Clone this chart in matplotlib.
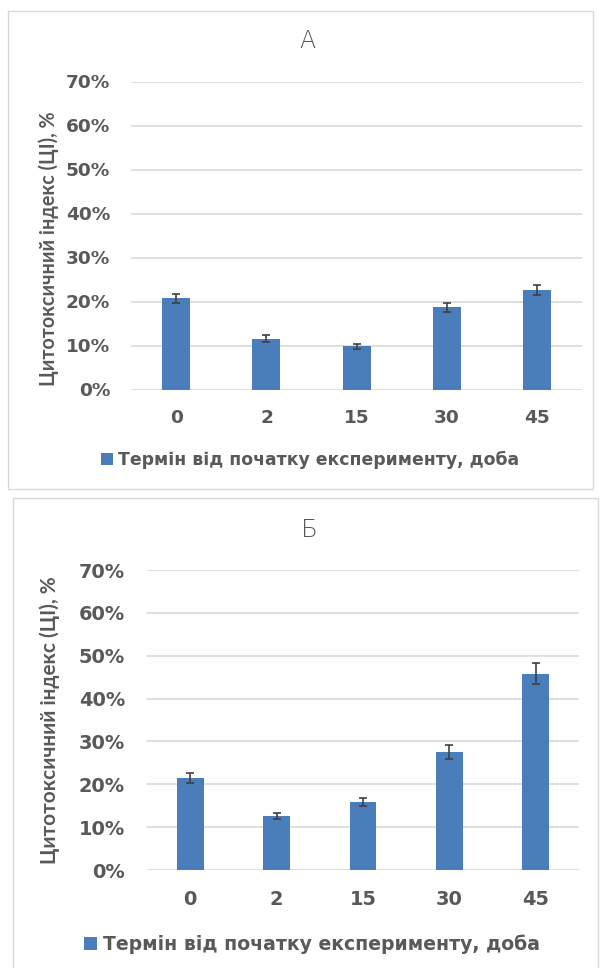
import matplotlib
matplotlib.use("Agg")
import matplotlib.pyplot as plt
from matplotlib.patches import Rectangle

# Data: cytotoxic index (%) by day from the start of the experiment
days = ["0", "2", "15", "30", "45"]
ci_a = [20.7, 11.5, 9.8, 18.7, 22.6]
err_a = [1.1, 0.8, 0.6, 1.0, 1.2]
ci_b = [21.5, 12.7, 15.9, 27.5, 45.8]
err_b = [1.2, 0.7, 0.9, 1.6, 2.4]
y_ticks = [0, 10, 20, 30, 40, 50, 60, 70]
y_tick_labels = [f"{t}%" for t in y_ticks]
panel_titles = ["А", "Б"]
series_name = "Термін від початку експерименту, доба"
y_label = "Цитотоксичний індекс (ЦІ), %"

W, H = 600, 968
BAR = "#4A7EBB"
GRID = "#D9D9D9"
TXT = "#595959"

fig = plt.figure(figsize=(W / 100, H / 100), dpi=100)


def fx(x):
    return x / W


def fy(y):
    return 1 - y / H


def panel(frame, box, values, errors, title, title_xy, ylab_xy, leg_xy, s,
          leg_size):
    # outer frame of the panel
    fl, ft, fr, fb = frame
    fig.patches.append(Rectangle((fx(fl), fy(fb)), fx(fr - fl), (fb - ft) / H,
                                 transform=fig.transFigure, fill=False,
                                 edgecolor=GRID, linewidth=1.0))
    l, t, r, b = box
    ax = fig.add_axes([fx(l), fy(b), fx(r - l), (b - t) / H])
    x = list(range(len(days)))
    ax.bar(x, values, width=0.31, color=BAR, zorder=3, label=series_name,
           yerr=errors, error_kw=dict(ecolor="#404040", elinewidth=1.2,
                                      capsize=3.0, capthick=1.2, zorder=4))
    ax.set_xlim(-0.5, len(days) - 0.5)
    ax.set_ylim(0, 70)
    ax.set_yticks(y_ticks)
    ax.set_yticklabels(y_tick_labels)
    ax.set_xticks(x)
    ax.set_xticklabels(days)
    ax.yaxis.grid(True, color=GRID, linewidth=1.2, zorder=0)
    ax.set_axisbelow(True)
    for sp in ax.spines.values():
        sp.set_visible(False)
    ax.tick_params(axis="both", length=0, colors=TXT)
    for lab in ax.get_yticklabels() + ax.get_xticklabels():
        lab.set_fontfamily("DejaVu Sans")
        lab.set_fontweight("bold")
        lab.set_fontsize(13.3 * s)
        lab.set_color(TXT)
    ax.tick_params(axis="y", pad=15 * s)
    ax.tick_params(axis="x", pad=14 * s)

    fig.text(fx(title_xy[0]), fy(title_xy[1]), title, ha="center", va="center",
             fontsize=17 * s, color=TXT, family="DejaVu Sans",
             fontweight="light")
    fig.text(fx(ylab_xy[0]), fy(ylab_xy[1]), y_label, ha="center", va="center",
             rotation=90, fontsize=14.2 * s, color=TXT, family="Lato",
             fontweight="bold")
    leg = ax.legend(loc="center", bbox_to_anchor=(fx(leg_xy[0]), fy(leg_xy[1])),
                    bbox_transform=fig.transFigure, frameon=False,
                    handlelength=0.7, handleheight=0.7, handletextpad=0.3,
                    borderpad=0, prop=dict(family="DejaVu Sans", weight="bold",
                                           size=leg_size))
    for txt in leg.get_texts():
        txt.set_color(TXT)
    return ax


panel((8, 11, 593, 489), (131, 81.5, 582.5, 389.5), ci_a, err_a,
      panel_titles[0], (307, 41), (49, 249), (310, 460), 1.0, 12.4)
panel((13, 498, 598, 975), (147, 570, 579, 870), ci_b, err_b,
      panel_titles[1], (309, 530), (50, 720), (312, 944), 1.05, 13.6)

fig.savefig("out.png", dpi=100)
